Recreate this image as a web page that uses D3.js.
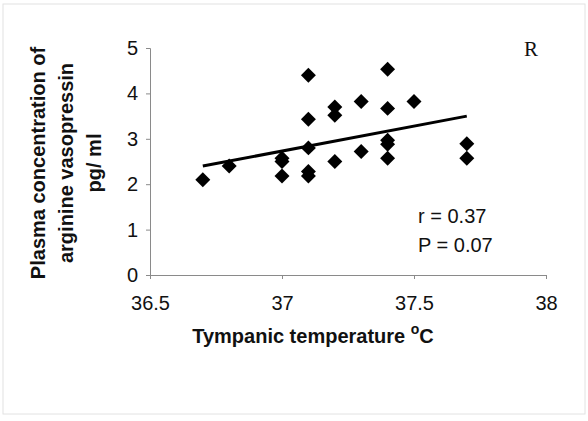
<!DOCTYPE html>
<html>
<head>
<meta charset="utf-8">
<script src="https://cdn.jsdelivr.net/npm/d3@7"></script>
<style>
  body { margin: 0; background: #fff; }
  text { font-family: Arial, "Liberation Sans", sans-serif; fill: #111; }
</style>
</head>
<body>
<div id="chart"></div>
<script>
// Tympanic temperature (°C) and plasma AVP (pg/ml)
const temps = [36.7, 36.8, 37.0, 37.0, 37.0, 37.1, 37.1, 37.1, 37.1, 37.1, 37.2, 37.2, 37.2,
               37.3, 37.3, 37.4, 37.4, 37.4, 37.4, 37.4, 37.5, 37.7, 37.7];
const avp = [2.1, 2.4, 2.57, 2.5, 2.18, 4.4, 3.43, 2.8, 2.28, 2.18, 3.7, 3.52, 2.5,
             3.82, 2.72, 4.53, 3.67, 2.97, 2.88, 2.57, 3.82, 2.89, 2.57];
// regression line end points
const trendX = [36.7, 37.7];
const trendY = [2.4, 3.5];
const xTicks = [36.5, 37, 37.5, 38];
const yTicks = [0, 1, 2, 3, 4, 5];
const yLabelLines = ['Plasma concentration of', 'arginine vasopressin', 'pg/ ml'];
const stats = ['r = 0.37', 'P = 0.07'];

const width = 588, height = 421;
const margin = {top: 48, right: 42, bottom: 146, left: 150};

const svg = d3.select('#chart')
  .append('svg')
    .attr('width', width)
    .attr('height', height);

// faint scan frame
svg.append('rect')
  .attr('x', 3).attr('y', 4)
  .attr('width', 582).attr('height', 410)
  .attr('fill', 'none')
  .attr('stroke', '#e2e2e2');

const xScale = d3.scaleLinear()
  .domain([36.5, 38])
  .range([margin.left, width - margin.right]);
const yScale = d3.scaleLinear()
  .domain([0, 5])
  .range([height - margin.bottom, margin.top]);

const xAxis = svg.append('g')
  .attr('transform', `translate(0, ${height - margin.bottom})`)
  .call(d3.axisBottom(xScale).tickValues(xTicks).tickSize(4).tickPadding(17).tickFormat(d3.format('')));
const yAxis = svg.append('g')
  .attr('transform', `translate(${margin.left}, 0)`)
  .call(d3.axisLeft(yScale).tickValues(yTicks).tickSize(4).tickPadding(8).tickFormat(d3.format('d')));

[xAxis, yAxis].forEach(ax => {
  ax.selectAll('path, line').attr('stroke', '#8a8a8a');
  ax.selectAll('text')
    .style('font-size', '20px')
    .attr('fill', '#111');
});

// trend line
svg.append('line')
  .attr('x1', xScale(trendX[0])).attr('y1', yScale(trendY[0]))
  .attr('x2', xScale(trendX[1])).attr('y2', yScale(trendY[1]))
  .attr('stroke', '#000')
  .attr('stroke-width', 3);

// diamonds
svg.append('g')
  .selectAll('path')
  .data(temps)
  .join('path')
    .attr('d', d3.symbol(d3.symbolSquare, 112))
    .attr('transform', (d, i) => `translate(${xScale(d)}, ${yScale(avp[i])}) rotate(45)`)
    .attr('fill', '#000');

// axis titles
svg.append('text')
  .attr('x', 313)
  .attr('y', 343)
  .attr('text-anchor', 'middle')
  .style('font-size', '20px')
  .style('font-weight', 700)
  .call(t => {
    t.append('tspan').text('Tympanic temperature ');
    t.append('tspan').attr('dy', -9).style('font-size', '14px').text('o');
    t.append('tspan').attr('dy', 9).text('C');
  });

svg.append('g')
  .selectAll('text')
  .data(yLabelLines)
  .join('text')
    .attr('transform', (d, i) => `translate(${45 + i * 28}, 163) rotate(-90)`)
    .attr('text-anchor', 'middle')
    .style('font-size', '20px')
    .style('font-weight', 700)
    .text(d => d);

// stats
svg.append('g')
  .selectAll('text')
  .data(stats)
  .join('text')
    .attr('x', 418)
    .attr('y', (d, i) => 223 + i * 29)
    .style('font-size', '20px')
    .text(d => d);

// panel letter
svg.append('text')
  .attr('x', 524)
  .attr('y', 56)
  .style('font-family', '"Liberation Serif", "Times New Roman", serif')
  .style('font-size', '21px')
  .text('R');
</script>
</body>
</html>
